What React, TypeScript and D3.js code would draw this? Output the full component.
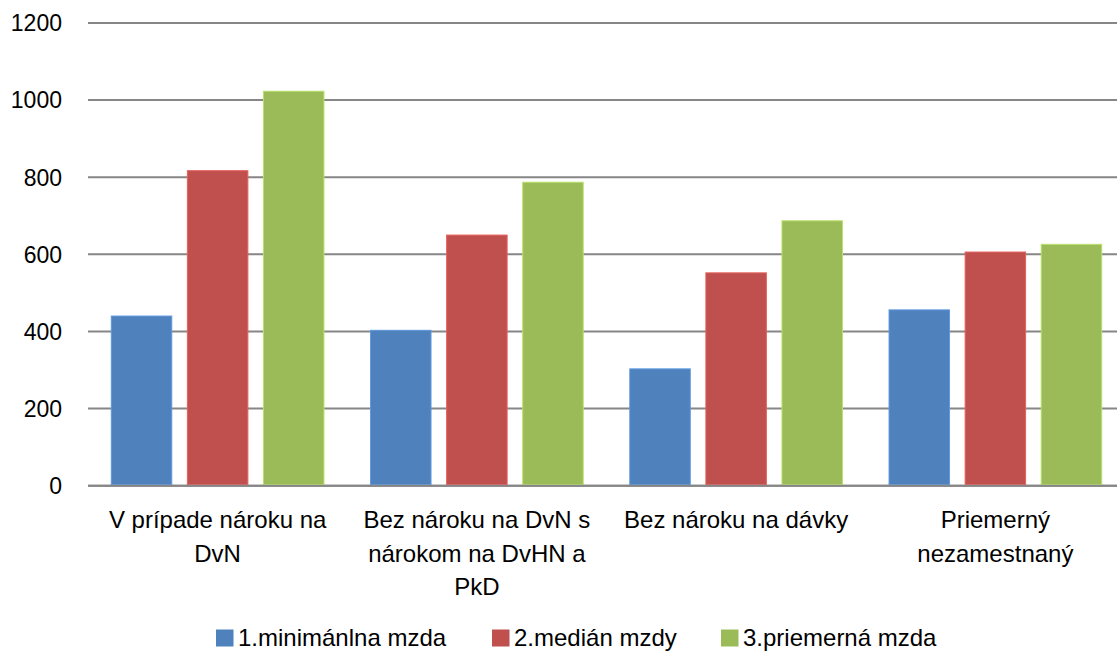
import * as d3 from 'd3';

// categories, each already broken into the lines shown under the axis
const categories = ['dvn', 'dvhn', 'bez', 'priem'];
const categoryLines = [
  ['V prípade nároku na', 'DvN'],
  ['Bez nároku na DvN s', 'nárokom na DvHN a', 'PkD'],
  ['Bez nároku na dávky'],
  ['Priemerný', 'nezamestnaný'],
];

const seriesNames = ['1.minimánlna mzda', '2.medián mzdy', '3.priemerná mzda'];
const seriesColors = ['#4F81BD', '#C0504D', '#9BBB59'];

// values per series
const minimalna = [440, 403, 303, 456];
const median = [817, 650, 552, 606];
const priemerna = [1023, 787, 687, 626];
const seriesValues = [minimalna, median, priemerna];

const yTicks = [0, 200, 400, 600, 800, 1000, 1200];

export default function App() {
  const width = 1117;
  const height = 652;

  // plot area runs a bit past the right edge, like the original crop
  const plotLeft = 88;
  const plotRight = 1125;
  const plotTop = 23;
  const plotBottom = 485.7;

  const xScale = d3.scaleBand<string>().domain(categories).range([plotLeft, plotRight]);
  const innerScale = d3
    .scaleBand<number>()
    .domain(d3.range(seriesNames.length))
    .range([0, xScale.bandwidth()])
    .paddingInner(0.205)
    .paddingOuter(0.306);
  const yScale = d3.scaleLinear().domain([0, 1200]).range([plotBottom, plotTop]);

  const font = '"Liberation Sans", Arial, sans-serif';

  // legend item positions (square x)
  const legendX = [216, 492, 721];

  return (
    <div style={{ position: 'absolute', left: 0, top: 0 }}>
      <svg width={width} height={height} style={{ display: 'block' }}>
        <rect x={0} y={0} width={width} height={height} fill="white" />

        {/* gridlines and y tick labels */}
        {yTicks.map((t) => (
          <g key={t}>
            <line
              x1={plotLeft}
              x2={plotRight}
              y1={yScale(t)}
              y2={yScale(t)}
              stroke="#868686"
              strokeWidth={2}
            />
            <text
              x={62}
              y={yScale(t) + 8.3}
              textAnchor="end"
              fontFamily={font}
              fontSize={23}
              fill="#000"
            >
              {t}
            </text>
          </g>
        ))}

        {/* bars */}
        {seriesValues.map((vals, s) =>
          vals.map((v, i) => {
            const x = (xScale(categories[i]) ?? 0) + (innerScale(s) ?? 0);
            return (
              <rect
                key={`${s}-${i}`}
                x={x}
                y={yScale(v)}
                width={innerScale.bandwidth()}
                height={plotBottom - yScale(v) - 1}
                fill={seriesColors[s]}
                stroke={d3.color(seriesColors[s])?.brighter(0.5).toString()}
                strokeWidth={1}
              />
            );
          })
        )}

        {/* category axis line drawn on top */}
        <line x1={plotLeft} x2={plotRight} y1={plotBottom} y2={plotBottom} stroke="#868686" strokeWidth={2} />

        {/* category labels */}
        {categoryLines.map((lines, i) => {
          const cx = (xScale(categories[i]) ?? 0) + xScale.bandwidth() / 2;
          return (
            <text key={i} textAnchor="middle" fontFamily={font} fontSize={24} fill="#000">
              {lines.map((ln, j) => (
                <tspan key={j} x={cx} y={528 + j * 33.5}>
                  {ln}
                </tspan>
              ))}
            </text>
          );
        })}

        {/* legend */}
        {seriesNames.map((name, s) => (
          <g key={name}>
            <rect x={legendX[s]} y={629.5} width={17.5} height={17} fill={seriesColors[s]} />
            <text x={legendX[s] + 22} y={646} fontFamily={font} fontSize={24} fill="#000">
              {name}
            </text>
          </g>
        ))}
      </svg>
    </div>
  );
}
